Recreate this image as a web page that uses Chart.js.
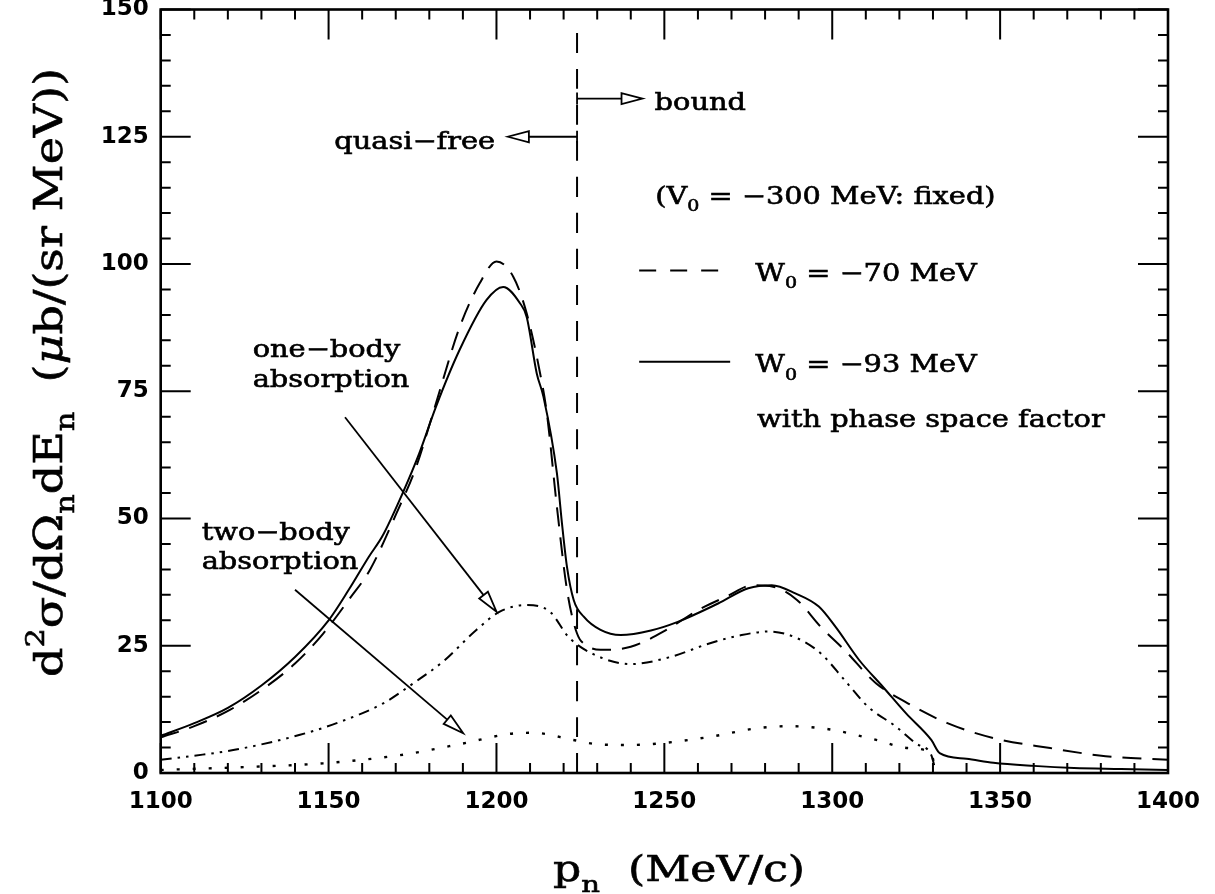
<!DOCTYPE html>
<html>
<head>
<meta charset="utf-8">
<script src="https://cdn.jsdelivr.net/npm/chart.js@4.4.1/dist/chart.umd.min.js"></script>
<style>
  html, body { margin: 0; background: #fff; }
  #wrap { width: 1215px; height: 894px; }
</style>
</head>
<body>
<div id="wrap"><canvas id="chart" width="1215" height="894"></canvas></div>
<script>
// p_n spectrum, V0 = -300 MeV fixed, two W0 values plus the two absorption parts

// W0 = -93 MeV (solid)
const solidX = [1100, 1110, 1120, 1130, 1140, 1150, 1156, 1162, 1166, 1172, 1177, 1182, 1189, 1197, 1202,
  1207, 1209, 1212, 1214, 1218, 1219.5, 1221, 1223, 1226, 1231, 1237, 1246, 1254, 1266, 1275, 1282, 1289,
  1296, 1301, 1308, 1315, 1322, 1329.5, 1332, 1340, 1348, 1360, 1372, 1386, 1400];
const solidY = [7.3, 9.8, 12.8, 17.2, 22.8, 30.0, 36.0, 42.5, 46.5, 54.9, 62.8, 72.0, 83.1, 92.9, 95.5,
  92.3, 89.6, 78.5, 73.9, 58.9, 49.1, 40.5, 34.0, 30.7, 28.1, 27.1, 28.0, 29.7, 33.3, 36.3, 36.9, 35.3,
  32.7, 28.7, 22.2, 17.0, 11.7, 6.5, 3.9, 2.8, 2.0, 1.4, 1.0, 0.8, 0.6];

// W0 = -70 MeV (dashed)
const dashX = [1100, 1110, 1120.6, 1131.5, 1140, 1148.4, 1156.3, 1162.3, 1170.2, 1176, 1181.1, 1189.1, 1195,
  1200, 1205, 1209, 1213, 1215, 1218, 1221, 1224, 1227, 1231, 1240, 1250.6, 1260, 1268.3, 1276.5, 1282.4,
  1289.5, 1296.6, 1303.6, 1313.1, 1322.5, 1334.3, 1348.4, 1364.9, 1381.4, 1400];
const dashY = [7.0, 9.2, 12.4, 17.0, 21.5, 27.4, 34.3, 39.9, 51.0, 60.0, 70.7, 87.7, 96.2,
  100.5, 97.5, 90.3, 78.5, 70.7, 52.3, 36.0, 27.4, 25.0, 24.2, 24.8, 28.1, 32.0, 34.6, 36.9, 36.6,
  34.0, 28.7, 24.2, 17.6, 13.7, 9.8, 6.8, 4.9, 3.3, 2.6];

// one-body absorption (dash-dot-dot)
const oneBodyX = [1100, 1110, 1121.6, 1141.5, 1152.4, 1166.3, 1175.2, 1184.1, 1194, 1201, 1208.9, 1215.9,
  1221.5, 1229, 1240, 1251.8, 1263.6, 1273, 1281.2, 1289.5, 1296.6, 1303.6, 1310.7, 1319, 1324.9, 1329.5, 1330.7];
const oneBodyY = [2.6, 3.4, 4.5, 7.5, 9.8, 13.7, 17.6, 21.9, 28.1, 31.7, 33.0, 31.7,
  26.7, 23.3, 21.4, 22.8, 25.5, 27.1, 27.8, 26.5, 23.5, 18.3, 13.0, 9.1, 5.8, 3.5, 0.6];

// two-body absorption (dotted)
const twoBodyX = [1100, 1126.6, 1148.4, 1171.2, 1190, 1204, 1211, 1222.8, 1230.7, 1240, 1248.3, 1263.6,
  1277.7, 1287.1, 1298.9, 1313.1, 1322.5, 1329.5, 1330.2, 1331];
const twoBodyY = [0.6, 1.2, 1.9, 3.5, 5.8, 7.7, 7.9, 6.5, 5.6, 5.5, 5.8, 7.1,
  8.8, 9.2, 8.6, 6.5, 4.9, 3.9, 2.2, 0.3];

// quasi-free / bound border
const borderX = [1224, 1224];
const borderY = [0, 146.5];

const xTickValues = [1100, 1150, 1200, 1250, 1300, 1350, 1400];
const yTickValues = [0, 25, 50, 75, 100, 125, 150];

// annotations, in data units
const arrows = [
  { from: [1224, 125], to: [1203.4, 125], bar: true },
  { from: [1224, 132.5], to: [1243.5, 132.5], bar: true },
  { from: [1154.9, 69.9], to: [1200, 31.7], bar: false },
  { from: [1140, 36.0], to: [1190.1, 7.8], bar: false }
];
const legendLines = [
  { x: [1242.5, 1268.5], y: 98.7, dash: [17, 14] },
  { x: [1242.5, 1269.6], y: 80.8, dash: [] }
];
const labels = [
  { at: [1199.6, 122.6], align: "right", segs: [["quasi−free"]] },
  { at: [1247.1, 130.2], segs: [["bound"]] },
  { at: [1247.3, 111.8], segs: [["(V"], ["0", "sub"], [" = −300 MeV: fixed)"]] },
  { at: [1277.1, 96.7], segs: [["W"], ["0", "sub"], [" = −70 MeV"]] },
  { at: [1277.1, 78.7], segs: [["W"], ["0", "sub"], [" = −93 MeV"]] },
  { at: [1277.6, 68.0], segs: [["with phase space factor"]] },
  { at: [1127.4, 81.7], segs: [["one−body"]] },
  { at: [1127.4, 75.9], segs: [["absorption"]] },
  { at: [1112.2, 45.8], segs: [["two−body"]] },
  { at: [1112.2, 40.0], segs: [["absorption"]] }
];

const SERIF = "'DejaVu Serif', serif";

function pts(xs, ys) {
  return xs.map((x, i) => ({ x, y: ys[i] }));
}

// text with sub/superscripts, stretched sideways like the plot package font
function richText(ctx, segs, size, align, stretch) {
  const parts = segs.map(([t, kind]) => {
    const s = kind && kind !== "ital" ? size * 0.66 : size;
    ctx.font = (kind === "ital" ? "italic " : "") + s + "px " + SERIF;
    return { t, kind, s, w: ctx.measureText(t).width };
  });
  const total = parts.reduce((a, p) => a + p.w, 0);
  ctx.scale(stretch, 1);
  ctx.lineWidth = 0.6;
  ctx.strokeStyle = "#000";
  let cx = align === "right" ? -total : 0;
  parts.forEach((p) => {
    ctx.font = (p.kind === "ital" ? "italic " : "") + p.s + "px " + SERIF;
    let dy = 0;
    if (p.kind === "sub") dy = size * 0.3;
    if (p.kind === "sup") dy = -size * 0.45;
    ctx.fillText(p.t, cx, dy);
    ctx.strokeText(p.t, cx, dy);
    cx += p.w;
  });
}

const frame = {
  id: "frame",
  afterDatasetsDraw(chart) {
    const { ctx, chartArea: a } = chart;
    const xs = chart.scales.x, ys = chart.scales.y;
    const px = (v) => xs.getPixelForValue(v);
    const py = (v) => ys.getPixelForValue(v);

    ctx.save();
    ctx.strokeStyle = "#000";
    ctx.fillStyle = "#000";
    ctx.lineCap = "butt";

    // inward ticks on all four sides
    ctx.lineWidth = 2;
    ctx.beginPath();
    for (let i = 0; i <= 30; i++) {
      const len = i % 5 === 0 ? 30 : 10;
      const p = px(1100 + i * 10);
      ctx.moveTo(p, a.bottom); ctx.lineTo(p, a.bottom - len);
      ctx.moveTo(p, a.top); ctx.lineTo(p, a.top + len);
    }
    for (let i = 0; i <= 30; i++) {
      const len = i % 5 === 0 ? 30 : 10;
      const p = py(i * 5);
      ctx.moveTo(a.left, p); ctx.lineTo(a.left + len, p);
      ctx.moveTo(a.right, p); ctx.lineTo(a.right - len, p);
    }
    ctx.stroke();

    ctx.lineWidth = 2.6;
    ctx.strokeRect(a.left, a.top, a.right - a.left, a.bottom - a.top);

    // arrows with open heads
    ctx.lineWidth = 1.8;
    arrows.forEach((ar) => {
      const x0 = px(ar.from[0]), y0 = py(ar.from[1]);
      const x1 = px(ar.to[0]), y1 = py(ar.to[1]);
      const ang = Math.atan2(y1 - y0, x1 - x0);
      const L = 21, H = 5.5;
      const bx = x1 - L * Math.cos(ang), by = y1 - L * Math.sin(ang);
      ctx.beginPath();
      ctx.moveTo(x0, y0); ctx.lineTo(bx, by);
      if (ar.bar) {
        ctx.moveTo(x0 - 6 * Math.sin(ang), y0 - 6 * Math.cos(ang));
        ctx.lineTo(x0 + 6 * Math.sin(ang), y0 + 6 * Math.cos(ang));
      }
      ctx.stroke();
      ctx.beginPath();
      ctx.moveTo(x1, y1);
      ctx.lineTo(bx + H * Math.sin(ang), by - H * Math.cos(ang));
      ctx.lineTo(bx - H * Math.sin(ang), by + H * Math.cos(ang));
      ctx.closePath();
      ctx.fillStyle = "#fff";
      ctx.fill();
      ctx.stroke();
    });

    // legend samples
    ctx.lineWidth = 2;
    legendLines.forEach((l) => {
      ctx.setLineDash(l.dash);
      ctx.beginPath();
      ctx.moveTo(px(l.x[0]), py(l.y));
      ctx.lineTo(px(l.x[1]), py(l.y));
      ctx.stroke();
    });
    ctx.setLineDash([]);

    // labels inside the frame
    ctx.fillStyle = "#000";
    ctx.textBaseline = "alphabetic";
    ctx.textAlign = "left";
    labels.forEach((lb) => {
      ctx.save();
      ctx.translate(px(lb.at[0]), py(lb.at[1]));
      richText(ctx, lb.segs, 24, lb.align, 1.2);
      ctx.restore();
    });

    // axis titles
    ctx.save();
    ctx.translate(553, 881);
    richText(ctx, [["p"], ["n", "sub"], ["  (MeV/c)"]], 35, "left", 1.26);
    ctx.restore();

    ctx.save();
    ctx.translate(62, 677);
    ctx.rotate(-Math.PI / 2);
    richText(ctx, [["d"], ["2", "sup"], ["σ/dΩ"], ["n", "sub"], ["dE"], ["n", "sub"],
      ["  ("], ["μ", "ital"], ["b/(sr MeV))"]], 40, "left", 1.15);
    ctx.restore();

    ctx.restore();
  }
};

const tickFont = { family: "'DejaVu Sans', sans-serif", size: 23, weight: "bold" };

new Chart(document.getElementById("chart"), {
  type: "line",
  data: {
    datasets: [
      { data: pts(borderX, borderY), borderDash: [20, 16], borderWidth: 2 },
      { data: pts(twoBodyX, twoBodyY), borderDash: [3, 13], borderWidth: 2.4 },
      { data: pts(oneBodyX, oneBodyY), borderDash: [11, 6, 2.5, 6, 2.5, 6], borderWidth: 2 },
      { data: pts(dashX, dashY), borderDash: [19, 11], borderWidth: 2 },
      { data: pts(solidX, solidY), borderDash: [], borderWidth: 2 }
    ]
  },
  options: {
    responsive: false,
    animation: false,
    layout: { padding: { left: 0, right: 47, top: 9.5, bottom: 0 } },
    elements: {
      point: { radius: 0 },
      line: { borderColor: "#000", fill: false, cubicInterpolationMode: "monotone" }
    },
    plugins: { legend: { display: false }, tooltip: { enabled: false } },
    scales: {
      x: {
        type: "linear",
        min: 1100,
        max: 1400,
        grid: { display: false, drawTicks: false },
        border: { display: false },
        ticks: { color: "#000", font: tickFont, padding: 15, maxRotation: 0, callback: (v) => String(v) },
        afterBuildTicks: (s) => { s.ticks = xTickValues.map((v) => ({ value: v })); },
        afterFit: (s) => {
          s.height = 121;
          s.paddingLeft = s.paddingRight = s.paddingTop = s.paddingBottom = 0;
        }
      },
      y: {
        type: "linear",
        min: 0,
        max: 150,
        grid: { display: false, drawTicks: false },
        border: { display: false },
        ticks: { color: "#000", font: tickFont, padding: 12, callback: (v) => String(v) },
        afterBuildTicks: (s) => { s.ticks = yTickValues.map((v) => ({ value: v })); },
        afterFit: (s) => {
          s.width = 160.7;
          s.paddingLeft = s.paddingRight = s.paddingTop = s.paddingBottom = 0;
        }
      }
    }
  },
  plugins: [frame]
});
</script>
</body>
</html>
